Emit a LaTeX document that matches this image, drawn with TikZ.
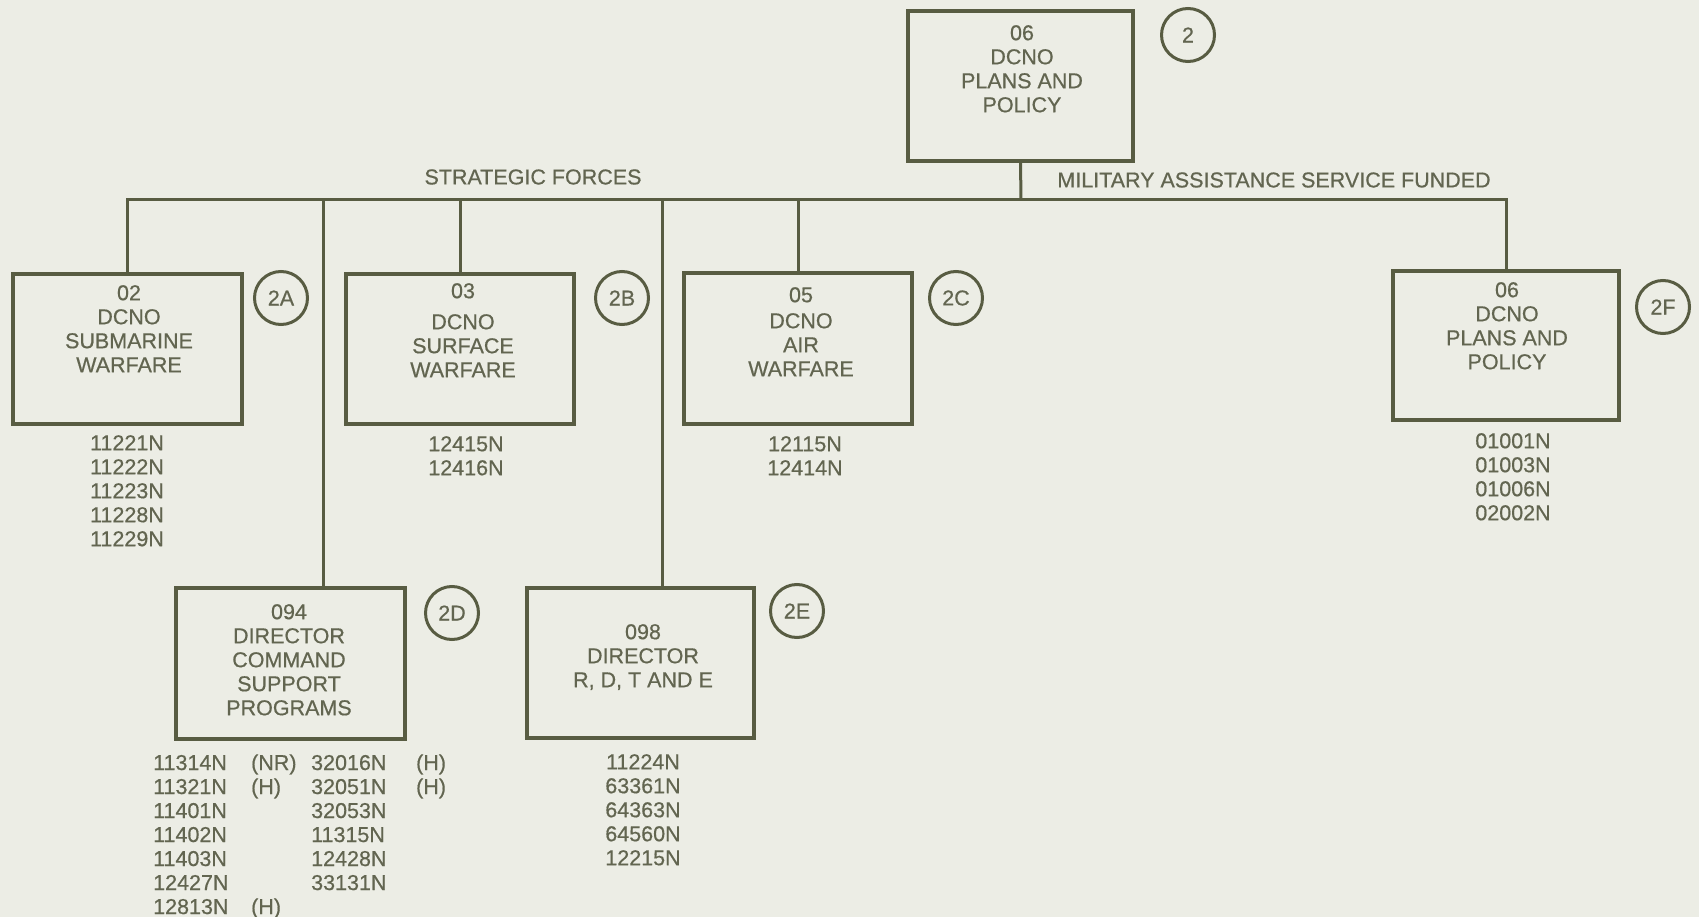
\documentclass[tikz,border=0pt]{standalone}
\usepackage{fontspec}
\setmainfont{Liberation Sans}[UprightFeatures={FakeBold=0.6}]
\definecolor{bg}{RGB}{236,237,229}
\definecolor{ink}{RGB}{88,92,66}
\definecolor{txt}{RGB}{98,101,80}
\newcommand\dgfont{\fontsize{21.5}{24}\selectfont}
\newcommand\cfont{\fontsize{21.5}{24}\selectfont}
\begin{document}
\begin{tikzpicture}[x=1pt,y=-1pt,
  box/.style={draw=ink,line width=3.2pt,rectangle,inner sep=0pt},
  conn/.style={draw=ink,line width=3pt},
  btxt/.style={text=txt,align=center,anchor=north,inner sep=0pt,font=\dgfont},
  lbl/.style={text=txt,inner sep=0pt,font=\dgfont},
  circ/.style={circle,draw=ink,line width=3pt,minimum size=53pt,inner sep=0pt,text=txt,font=\cfont}]
\fill[bg] (0,0) rectangle (1699,917);
\useasboundingbox (0,0) rectangle (1699,917);
% boxes
\node[box,minimum width=225pt,minimum height=150pt] (top) at (1020.5,86) {};
\node[box,minimum width=229pt,minimum height=150pt] (sub) at (127.5,349) {};
\node[box,minimum width=228pt,minimum height=150pt] (surf) at (460,349) {};
\node[box,minimum width=228pt,minimum height=151pt] (air) at (798,348.5) {};
\node[box,minimum width=226pt,minimum height=149pt] (pol) at (1506,345.5) {};
\node[box,minimum width=229pt,minimum height=151pt] (csp) at (290.5,663.5) {};
\node[box,minimum width=227pt,minimum height=150pt] (rdt) at (640.5,663) {};
% connectors
\coordinate (bus) at (1021,200);
\coordinate (j94) at (323,200);
\coordinate (j98) at (662,200);
\draw[conn] (top.south) -- (bus);
\draw[conn] (sub.north) |- (bus) -| (pol.north);
\draw[conn] (surf.north) -- (surf.north |- bus);
\draw[conn] (air.north) -- (air.north |- bus);
\draw[conn] (j94) -- (j94 |- csp.north);
\draw[conn] (j98) -- (j98 |- rdt.north);
% box texts
\node[btxt] (topT) at (1022,25) {06\\DCNO\\PLANS AND\\POLICY};
\node[btxt] (subT) at (129,285) {02\\DCNO\\SUBMARINE\\WARFARE};
\node[btxt] (surfT) at (463,283) {03\\[7pt]DCNO\\SURFACE\\WARFARE};
\node[btxt] (airT) at (801,287) {05\\[2pt]DCNO\\AIR\\WARFARE};
\node[btxt] (polT) at (1507,282) {06\\DCNO\\PLANS AND\\POLICY};
\node[btxt] (cspT) at (289,604) {094\\DIRECTOR\\COMMAND\\SUPPORT\\PROGRAMS};
\node[btxt] (rdtT) at (643,624) {098\\DIRECTOR\\R, D, T AND E};
% lists
\node[btxt] (subL) at (127,435) {11221N\\11222N\\11223N\\11228N\\11229N};
\node[btxt] (surfL) at (466,436) {12415N\\12416N};
\node[btxt] (airL) at (805,436) {12115N\\12414N};
\node[btxt] (polL) at (1513,433) {01001N\\01003N\\01006N\\02002N};
\node[btxt] (rdtL) at (643,754) {11224N\\63361N\\64363N\\64560N\\12215N};
\node[text=txt,inner sep=0pt,anchor=north west,font=\dgfont] (cspL) at (153,753)
 {\begin{tabular}{@{}p{98pt}@{}p{60pt}@{}p{105pt}@{}l@{}}
 11314N & (NR) & 32016N & (H)\\
 11321N & (H) & 32051N & (H)\\
 11401N & & 32053N & \\
 11402N & & 11315N & \\
 11403N & & 12428N & \\
 12427N & & 33131N & \\
 12813N & (H) & & \end{tabular}};
% labels
\node[lbl] (sf) at (533,177) {STRATEGIC FORCES};
\node[lbl] (masf) at (1274,180) {MILITARY ASSISTANCE SERVICE FUNDED};
% circles
\node[circ] (c2) at (1188,35) {2};
\node[circ] (c2a) at (281,298) {2A};
\node[circ] (c2b) at (622,298) {2B};
\node[circ] (c2c) at (956,298) {2C};
\node[circ] (c2f) at (1663,307) {2F};
\node[circ] (c2d) at (452,613) {2D};
\node[circ] (c2e) at (797,611) {2E};
\end{tikzpicture}
\end{document}
